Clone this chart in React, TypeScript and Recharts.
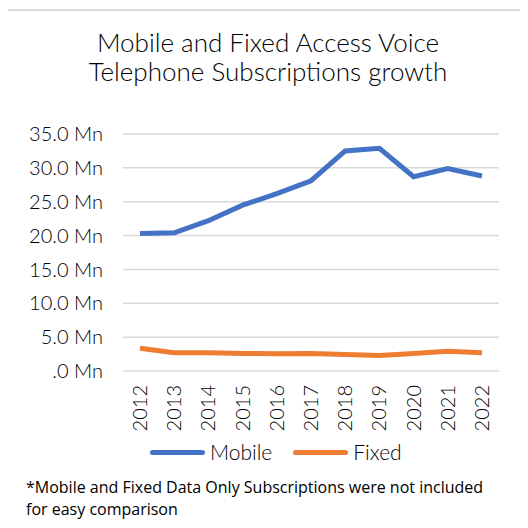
import { CartesianGrid, Line, LineChart, XAxis, YAxis } from "recharts";

const years = ["2012", "2013", "2014", "2015", "2016", "2017", "2018", "2019", "2020", "2021", "2022"];
const mobile = [20.3, 20.4, 22.2, 24.5, 26.2, 28.1, 32.5, 32.9, 28.7, 29.9, 28.8];
const fixed = [3.35, 2.7, 2.7, 2.6, 2.55, 2.6, 2.45, 2.3, 2.6, 2.9, 2.7];
const yTicks = [0, 5, 10, 15, 20, 25, 30, 35];

const data = years.map((year, i) => ({ year, Mobile: mobile[i], Fixed: fixed[i] }));

const font = "Lato, 'Open Sans', sans-serif";
const BLUE = "#4472C4";
const ORANGE = "#ED7D31";

const fmt = (v: number) => (v === 0 ? ".0 Mn" : `${v.toFixed(1)} Mn`);

function YearTick(props: any) {
  const { x, y, payload } = props;
  return (
    <text
      x={x}
      y={y}
      transform={`rotate(-90, ${x}, ${y})`}
      textAnchor="end"
      dy="0.35em"
      fill="#000"
      fontSize={20}
      fontWeight={300}
      fontFamily={font}
    >
      {payload.value}
    </text>
  );
}

function LegendItem({ color, label }: { color: string; label: string }) {
  return (
    <span style={{ display: "inline-flex", alignItems: "center", marginRight: 21 }}>
      <span style={{ width: 55, height: 5, borderRadius: 3, background: color, marginRight: 5 }} />
      <span>{label}</span>
    </span>
  );
}

export default function App() {
  return (
    <div style={{ position: "relative", width: 528, height: 528, margin: -8, overflow: "hidden", background: "#fff" }}>
      <div
        style={{
          position: "absolute",
          left: 6,
          top: 9,
          width: 540,
          height: 540,
          border: "2px solid #d9d9d9",
          boxSizing: "border-box",
        }}
      />
      <div
        style={{
          position: "absolute",
          left: 58,
          width: 420,
          top: 28,
          textAlign: "center",
          fontFamily: font,
          fontSize: 26,
          fontWeight: 300,
          lineHeight: "29px",
          color: "#000",
        }}
      >
        Mobile and Fixed Access Voice
        <br />
        Telephone Subscriptions growth
      </div>
      <div style={{ position: "absolute", left: 0, top: 0 }}>
        <LineChart width={528} height={440} data={data} margin={{ top: 134, right: 29, left: 0, bottom: 0 }}>
          <CartesianGrid vertical={false} stroke="#d9d9d9" strokeWidth={1.5} />
          <XAxis
            dataKey="year"
            height={69}
            axisLine={false}
            tickLine={false}
            tickSize={0}
            tickMargin={14}
            interval={0}
            padding={{ left: 17, right: 17 }}
            tick={<YearTick />}
          />
          <YAxis
            width={123}
            domain={[0, 35]}
            ticks={yTicks}
            axisLine={false}
            tickLine={false}
            tickSize={0}
            tickMargin={20}
            tickFormatter={fmt}
            tick={{ fill: "#000", fontSize: 20, fontWeight: 300, fontFamily: font }}
          />
          <Line dataKey="Mobile" stroke={BLUE} strokeWidth={5} dot={false} isAnimationActive={false} />
          <Line dataKey="Fixed" stroke={ORANGE} strokeWidth={5} dot={false} isAnimationActive={false} />
        </LineChart>
      </div>
      <div
        style={{
          position: "absolute",
          left: 150,
          top: 439,
          display: "flex",
          fontFamily: font,
          fontSize: 21,
          fontWeight: 300,
          color: "#000",
          lineHeight: "26px",
        }}
      >
        <LegendItem color={BLUE} label="Mobile" />
        <LegendItem color={ORANGE} label="Fixed" />
      </div>
      <div
        style={{
          position: "absolute",
          left: 26,
          top: 476,
          width: 500,
          fontFamily: "'Open Sans', sans-serif",
          fontSize: 16,
          lineHeight: "22px",
          color: "#000",
        }}
      >
        *Mobile and Fixed Data Only Subscriptions were not included
        <br />
        for easy comparison
      </div>
    </div>
  );
}
